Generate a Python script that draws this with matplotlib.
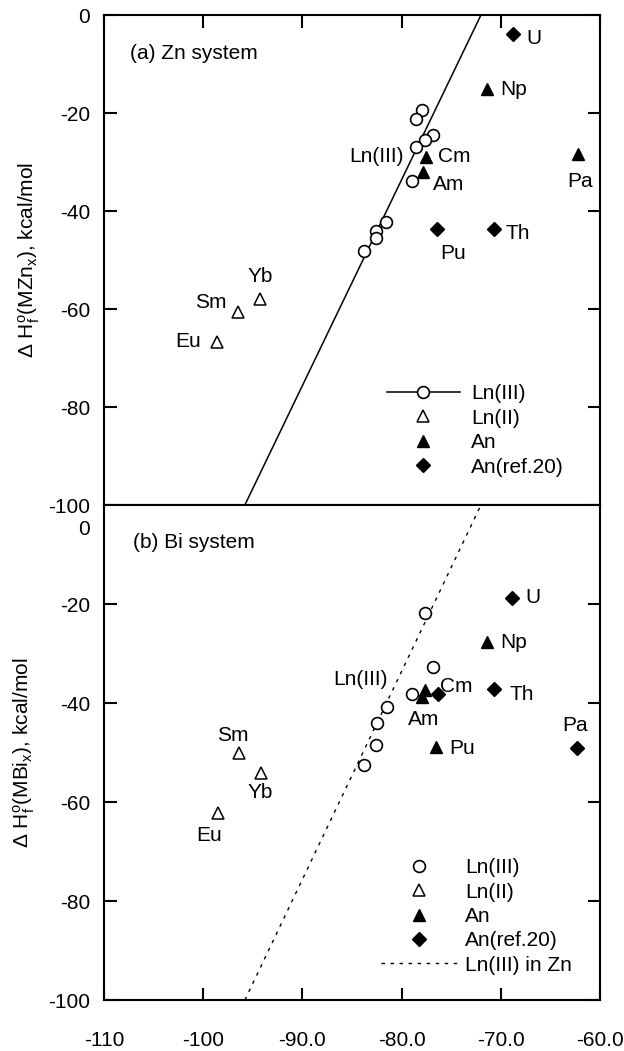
import matplotlib
matplotlib.use("Agg")
import matplotlib.pyplot as plt
from matplotlib.lines import Line2D

plt.rcParams['font.family'] = ['Liberation Sans', 'DejaVu Sans']
plt.rcParams['mathtext.fontset'] = 'custom'
plt.rcParams['mathtext.rm'] = 'Liberation Sans'
plt.rcParams['mathtext.it'] = 'Liberation Sans:italic'
plt.rcParams['axes.unicode_minus'] = False

# Ln(III) trend line in the Zn system (end points)
fit_x = [-95.8, -72.0]
fit_y = [-100, 0]

# (a) Zn system
zn_ln3_x = [-77.9, -78.5, -76.8, -77.6, -78.5, -79.0, -81.6, -82.6, -82.6, -83.8]
zn_ln3_y = [-19.3, -21.3, -24.4, -25.5, -26.9, -33.9, -42.2, -44.1, -45.5, -48.1]
zn_ln2_x = [-94.3, -96.5, -98.6]
zn_ln2_y = [-58.0, -60.7, -66.7]
zn_an_x = [-71.4, -77.5, -77.8, -62.2]
zn_an_y = [-15.0, -28.9, -32.0, -28.4]
zn_ref_x = [-68.8, -76.4, -70.7]
zn_ref_y = [-3.9, -43.7, -43.7]

zn_names = ['U', 'Np', 'Ln(III)', 'Cm', 'Am', 'Pa', 'Th', 'Pu', 'Yb', 'Sm', 'Eu']
zn_name_pos = [(-67.4, -4.8, 'left'), (-70.1, -15.2, 'left'), (-79.8, -28.8, 'right'),
               (-76.3, -28.8, 'left'), (-76.8, -34.5, 'left'), (-62.0, -33.9, 'center'),
               (-69.5, -44.6, 'left'), (-74.8, -48.6, 'center'), (-94.3, -53.4, 'center'),
               (-97.6, -58.7, 'right'), (-100.2, -66.7, 'right')]

# (b) Bi system
bi_ln3_x = [-77.6, -76.8, -79.0, -81.5, -82.5, -82.6, -83.8]
bi_ln3_y = [-21.9, -32.8, -38.2, -40.8, -44.0, -48.5, -52.6]
bi_ln2_x = [-96.4, -94.2, -98.5]
bi_ln2_y = [-50.1, -54.1, -62.2]
bi_an_x = [-71.4, -77.6, -77.9, -76.5]
bi_an_y = [-27.6, -37.4, -38.8, -48.8]
bi_ref_x = [-68.9, -76.3, -70.7, -62.3]
bi_ref_y = [-18.8, -38.2, -37.2, -49.1]

bi_names = ['U', 'Np', 'Ln(III)', 'Cm', 'Th', 'Am', 'Pa', 'Pu', 'Sm', 'Yb', 'Eu']
bi_name_pos = [(-67.5, -18.6, 'left'), (-70.1, -27.7, 'left'), (-81.4, -35.2, 'right'),
               (-76.1, -36.7, 'left'), (-69.1, -38.2, 'left'), (-77.8, -43.3, 'center'),
               (-62.5, -44.5, 'center'), (-75.2, -49.2, 'left'), (-97.0, -46.5, 'center'),
               (-94.3, -58.1, 'center'), (-99.4, -66.7, 'center')]

x_ticks = [-110, -100, -90, -80, -70, -60]
x_tick_labels = ['-110', '-100', '-90.0', '-80.0', '-70.0', '-60.0']

FS = 15
ms = dict(circle=8.5, tri=9, dia=7)

fig = plt.figure(figsize=(6.24, 10.51), dpi=100)
ax1 = fig.add_axes([0.1667, 0.5195, 0.7948, 0.4662])
ax2 = fig.add_axes([0.1667, 0.0485, 0.7948, 0.4710])


def style_axes(ax):
    ax.set_xlim(-110, -60)
    ax.set_ylim(-100, 0)
    ax.set_xticks(x_ticks)
    for s in ax.spines.values():
        s.set_linewidth(1.5)
    ax.tick_params(direction='in', length=9, width=1.5, labelsize=FS,
                   left=True, right=True)
    ax.tick_params(axis='y', pad=10)


def draw_points(ax, l3x, l3y, l2x, l2y, anx, any_, rfx, rfy):
    ax.plot(l3x, l3y, 'o', ms=ms['circle'], mfc='white', mec='black', mew=1.2, zorder=4)
    ax.plot(l2x, l2y, '^', ms=ms['tri'], mfc='white', mec='black', mew=1.1, zorder=4)
    ax.plot(anx, any_, '^', ms=ms['tri'], mfc='black', mec='black', zorder=5)
    ax.plot(rfx, rfy, 'D', ms=ms['dia'], mfc='black', mec='black', zorder=5)


# ---- (a) Zn system
style_axes(ax1)
ax1.plot(fit_x, fit_y, '-', color='black', lw=1.1, zorder=3)
draw_points(ax1, zn_ln3_x, zn_ln3_y, zn_ln2_x, zn_ln2_y,
            zn_an_x, zn_an_y, zn_ref_x, zn_ref_y)
for name, (tx, ty, ha) in zip(zn_names, zn_name_pos):
    ax1.text(tx, ty, name, ha=ha, va='center', fontsize=FS)
ax1.text(0.053, 0.922, '(a) Zn system', transform=ax1.transAxes,
         ha='left', va='center', fontsize=FS)
ax1.set_yticks([0, -20, -40, -60, -80, -100])
ax1.tick_params(axis='x', top=True, bottom=False, labelbottom=False)
ax1.set_ylabel(r'$\Delta$ H$_\mathrm{f}^\mathrm{o}$(MZn$_\mathrm{x}$), kcal/mol', fontsize=FS)
ax1.yaxis.set_label_coords(-0.125, 0.5)

h1 = [Line2D([], [], color='black', lw=1.1, marker='o', ms=ms['circle'],
             mfc='white', mec='black', mew=1.2),
      Line2D([], [], ls='none', marker='^', ms=ms['tri'], mfc='white', mec='black', mew=1.1),
      Line2D([], [], ls='none', marker='^', ms=ms['tri'], mfc='black', mec='black'),
      Line2D([], [], ls='none', marker='D', ms=ms['dia'], mfc='black', mec='black')]
ax1.legend(h1, ['Ln(III)', 'Ln(II)', 'An', 'An(ref.20)'], loc='lower left',
           bbox_to_anchor=(0.57, 0.058), frameon=False, fontsize=FS,
           handlelength=3.5, handletextpad=0.55, labelspacing=0.26,
           borderpad=0, borderaxespad=0)

# ---- (b) Bi system
style_axes(ax2)
ax2.plot(fit_x, fit_y, color='black', lw=1.0, ls=(0, (2.5, 4)), zorder=3)
draw_points(ax2, bi_ln3_x, bi_ln3_y, bi_ln2_x, bi_ln2_y,
            bi_an_x, bi_an_y, bi_ref_x, bi_ref_y)
for name, (tx, ty, ha) in zip(bi_names, bi_name_pos):
    ax2.text(tx, ty, name, ha=ha, va='center', fontsize=FS)
ax2.text(0.058, 0.925, '(b) Bi system', transform=ax2.transAxes,
         ha='left', va='center', fontsize=FS)
ax2.set_yticks([-20, -40, -60, -80, -100])
ax2.text(-0.028, 0.951, '0', transform=ax2.transAxes, ha='right', va='center', fontsize=FS)
ax2.set_xticklabels(x_tick_labels)
ax2.tick_params(axis='x', top=False, bottom=True, pad=22)
ax2.set_ylabel(r'$\Delta$ H$_\mathrm{f}^\mathrm{o}$(MBi$_\mathrm{x}$), kcal/mol', fontsize=FS)
ax2.yaxis.set_label_coords(-0.135, 0.5)

h2 = [Line2D([], [], ls='none', marker='o', ms=ms['circle'], mfc='white', mec='black', mew=1.2),
      Line2D([], [], ls='none', marker='^', ms=ms['tri'], mfc='white', mec='black', mew=1.1),
      Line2D([], [], ls='none', marker='^', ms=ms['tri'], mfc='black', mec='black'),
      Line2D([], [], ls='none', marker='D', ms=ms['dia'], mfc='black', mec='black'),
      Line2D([], [], color='black', lw=1.0, ls=(0, (2.5, 4)))]
ax2.legend(h2, ['Ln(III)', 'Ln(II)', 'An', 'An(ref.20)', 'Ln(III) in Zn'], loc='lower left',
           bbox_to_anchor=(0.558, 0.051), frameon=False, fontsize=FS,
           handlelength=3.65, handletextpad=0.4, labelspacing=0.26,
           borderpad=0, borderaxespad=0)

fig.savefig('out.png', dpi=100)
